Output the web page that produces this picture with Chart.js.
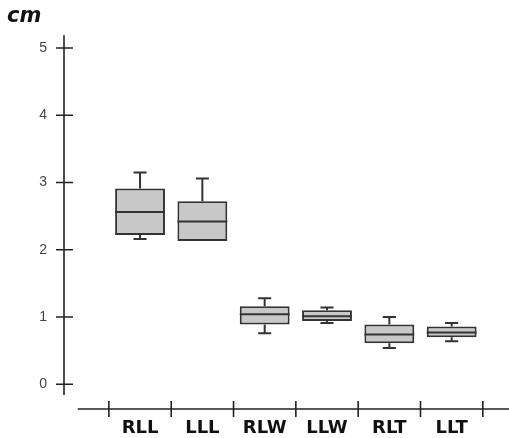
<!DOCTYPE html>
<html>
<head>
    <title>Box plot cm</title>
    <script src="https://cdn.jsdelivr.net/npm/chart.js"></script>
    <style>
        html, body { margin: 0; padding: 0; background: #fff; }
        #wrap { width: 509px; height: 438px; }
    </style>
</head>
<body>
    <div id="wrap"><canvas id="grafica"></canvas></div>

    <script>
        // datos
        var categorias = ['RLL', 'LLL', 'RLW', 'LLW', 'RLT', 'LLT'];
        var q1 = [2.22, 2.13, 0.89, 0.94, 0.61, 0.70];
        var q3 = [2.91, 2.72, 1.16, 1.10, 0.89, 0.86];
        var mediana = [2.56, 2.42, 1.04, 1.01, 0.74, 0.77];
        var minimo = [2.16, 2.13, 0.76, 0.91, 0.54, 0.64];
        var maximo = [3.15, 3.06, 1.28, 1.14, 1.00, 0.91];
        var ticksY = [0, 1, 2, 3, 4, 5];

        var colorLinea = '#333333';

        // bigotes, medianas y ejes dibujados con las escalas de Chart.js
        var cajasPlugin = {
            id: 'cajas',
            afterDatasetsDraw: function(chart) {
                var ctx = chart.ctx;
                var xs = chart.scales.x;
                var ys = chart.scales.y;
                var meta = chart.getDatasetMeta(0);
                var area = chart.chartArea;
                ctx.save();
                ctx.strokeStyle = colorLinea;
                ctx.lineWidth = 2;
                meta.data.forEach(function(bar, i) {
                    var cx = bar.x;
                    var half = bar.width / 2;
                    var capW = xs.getPixelForValue(i + 1.105) - cx;
                    var yTop = ys.getPixelForValue(q3[i]);
                    var yBot = ys.getPixelForValue(q1[i]);
                    var yMax = ys.getPixelForValue(maximo[i]);
                    var yMin = ys.getPixelForValue(minimo[i]);
                    var yMed = ys.getPixelForValue(mediana[i]);
                    ctx.beginPath();
                    ctx.moveTo(cx - half, yMed); ctx.lineTo(cx + half, yMed);
                    if (maximo[i] > q3[i]) {
                        ctx.moveTo(cx, yTop); ctx.lineTo(cx, yMax);
                        ctx.moveTo(cx - capW, yMax); ctx.lineTo(cx + capW, yMax);
                    }
                    if (minimo[i] < q1[i]) {
                        ctx.moveTo(cx, yBot); ctx.lineTo(cx, yMin);
                        ctx.moveTo(cx - capW, yMin); ctx.lineTo(cx + capW, yMin);
                    }
                    ctx.stroke();
                });

                // eje Y
                ctx.lineWidth = 1.6;
                ctx.strokeStyle = '#222';
                ctx.beginPath();
                ctx.moveTo(area.left, area.top);
                ctx.lineTo(area.left, area.bottom);
                ticksY.forEach(function(v) {
                    var py = ys.getPixelForValue(v);
                    ctx.moveTo(area.left - 8, py);
                    ctx.lineTo(area.left + 9, py);
                });
                // eje X
                var yEje = area.bottom + 14;
                ctx.moveTo(xs.getPixelForValue(0), yEje);
                ctx.lineTo(area.right, yEje);
                for (var k = 0; k <= categorias.length; k++) {
                    var px = xs.getPixelForValue(k + 0.5);
                    ctx.moveTo(px, yEje - 8);
                    ctx.lineTo(px, yEje + 8);
                }
                ctx.stroke();
                ctx.restore();
            }
        };

        var ctx1 = document.getElementById('grafica').getContext('2d');

        var chart1 = new Chart(ctx1, {
            type: 'bar',
            data: {
                datasets: [{
                    label: 'cm',
                    data: categorias.map(function(c, i) { return { x: i + 1, y: [q1[i], q3[i]] }; }),
                    backgroundColor: '#c8c8c8',
                    borderColor: colorLinea,
                    borderWidth: 2,
                    borderSkipped: false,
                    categoryPercentage: 1,
                    barPercentage: 0.8
                }]
            },
            options: {
                responsive: true,
                maintainAspectRatio: false,
                animation: false,
                layout: { padding: { left: 7, right: 0, top: 0, bottom: 0 } },
                plugins: {
                    legend: { display: false },
                    tooltip: { enabled: false },
                    title: {
                        display: true,
                        text: 'cm',
                        align: 'start',
                        color: '#111',
                        font: { family: 'DejaVu Sans', size: 21, weight: 'bold', style: 'italic' },
                        padding: { top: 4, bottom: 6 }
                    }
                },
                scales: {
                    x: {
                        type: 'linear',
                        offset: false,
                        min: -0.22,
                        max: 6.92,
                        grid: { display: false, drawTicks: false, offset: false },
                        border: { display: false },
                        afterFit: function(scale) { scale.height = 43; },
                        ticks: {
                            stepSize: 1,
                            autoSkip: false,
                            maxRotation: 0,
                            includeBounds: false,
                            padding: 23,
                            color: '#111',
                            font: { family: 'DejaVu Sans', size: 18, weight: 'bold' },
                            callback: function(v) { return categorias[v - 1] || ''; }
                        }
                    },
                    y: {
                        min: -0.16,
                        max: 5.19,
                        grid: { display: false, drawTicks: false },
                        border: { display: false },
                        afterFit: function(scale) { scale.width = 57; },
                        ticks: {
                            stepSize: 1,
                            includeBounds: false,
                            padding: 17,
                            color: '#444',
                            font: { family: 'Liberation Sans', size: 14 }
                        }
                    }
                }
            },
            plugins: [cajasPlugin]
        });
    </script>
</body>
</html>
